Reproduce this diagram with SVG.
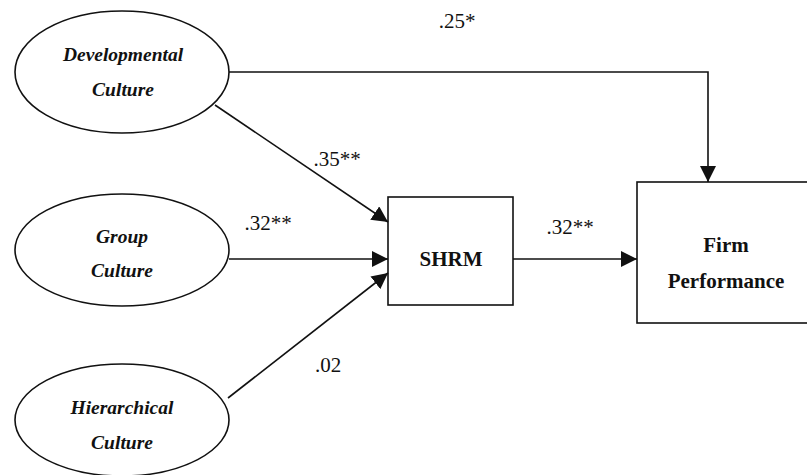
<svg xmlns="http://www.w3.org/2000/svg" width="807" height="475" viewBox="0 0 807 475">
<style>
.n{fill:#fff;stroke:#111;stroke-width:1.6}
.lt{font-family:'Liberation Serif','Times New Roman','DejaVu Serif',serif;font-weight:bold;font-style:italic;font-size:19.5px;fill:#111;text-anchor:middle}
.bt{font-family:'Liberation Serif','Times New Roman','DejaVu Serif',serif;font-weight:bold;font-size:21px;fill:#111;text-anchor:middle}
.c{fill:none;stroke:#111;stroke-width:1.6}
.w{font-family:'Liberation Serif','Times New Roman','DejaVu Serif',serif;font-size:21px;fill:#111;text-anchor:middle}
</style>
<defs>
<marker id="ah" viewBox="0 0 10 10" refX="10" refY="5" markerWidth="16" markerHeight="16" markerUnits="userSpaceOnUse" orient="auto">
<path d="M0,0 L10,5 L0,10 Z" fill="#111"/>
</marker>
</defs>
<rect width="807" height="475" fill="#fff"/>
<g id="dev"><ellipse class="n" cx="122" cy="72" rx="107" ry="61"/><text class="lt" x="123" y="61">Developmental</text><text class="lt" x="123" y="96">Culture</text></g>
<g id="grp"><ellipse class="n" cx="122" cy="250" rx="107" ry="56"/><text class="lt" x="122" y="243">Group</text><text class="lt" x="122" y="277">Culture</text></g>
<g id="hier"><ellipse class="n" cx="122" cy="420" rx="107" ry="56"/><text class="lt" x="122" y="414">Hierarchical</text><text class="lt" x="122" y="449">Culture</text></g>
<g id="shrm"><rect class="n" x="388" y="197" width="125" height="108"/><text class="bt" x="451" y="266">SHRM</text></g>
<g id="firm"><rect class="n" x="637" y="182" width="172" height="141"/><text class="bt" x="726" y="252">Firm</text><text class="bt" x="726" y="288">Performance</text></g>
<g id="connectors">
<path class="c" d="M229,72 H708 V182" marker-end="url(#ah)"/>
<path class="c" d="M215,105 L388,222" marker-end="url(#ah)"/>
<path class="c" d="M229,259 L388,259" marker-end="url(#ah)"/>
<path class="c" d="M228,398 L388,273" marker-end="url(#ah)"/>
<path class="c" d="M513,259 L637,259" marker-end="url(#ah)"/>
<text class="w" x="457" y="28">.25*</text>
<text class="w" x="337" y="166">.35**</text>
<text class="w" x="268" y="230">.32**</text>
<text class="w" x="570" y="234">.32**</text>
<text class="w" x="328" y="372">.02</text>
</g>
</svg>
